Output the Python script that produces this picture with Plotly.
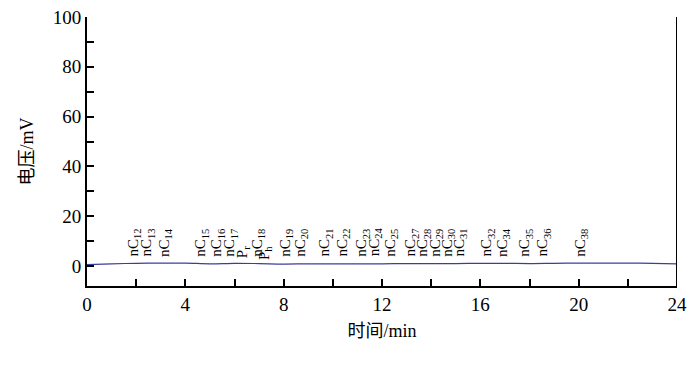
import plotly.graph_objects as go

# Chromatogram baseline (time in min, voltage in mV)
time_min = [0, 1, 2, 3, 4, 5, 6, 7, 8, 9, 10, 11, 12, 13, 14, 15, 16, 17, 18, 19, 20, 21, 22, 23, 24]
voltage_mv = [0.6, 0.9, 1.1, 1.2, 1.2, 0.9, 1.1, 1.0, 0.8, 0.9, 0.9, 0.9, 0.9, 1.0, 1.0, 1.0, 1.1, 1.1, 1.0, 1.1, 1.2, 1.2, 1.2, 1.1, 0.9]

# Peak labels and their retention times
peak_labels = ["nC<sub>12</sub>", "nC<sub>13</sub>", "nC<sub>14</sub>", "nC<sub>15</sub>", "nC<sub>16</sub>",
               "nC<sub>17</sub>", "P<sub>r</sub>", "nC<sub>18</sub>", "P<sub>h</sub>", "nC<sub>19</sub>",
               "nC<sub>20</sub>", "nC<sub>21</sub>", "nC<sub>22</sub>", "nC<sub>23</sub>", "nC<sub>24</sub>",
               "nC<sub>25</sub>", "nC<sub>27</sub>", "nC<sub>28</sub>", "nC<sub>29</sub>", "nC<sub>30</sub>",
               "nC<sub>31</sub>", "nC<sub>32</sub>", "nC<sub>34</sub>", "nC<sub>35</sub>", "nC<sub>36</sub>",
               "nC<sub>38</sub>"]
peak_times = [1.91, 2.44, 3.17, 4.64, 5.29, 5.82, 6.35, 6.92, 7.24, 8.06, 8.67, 9.68, 10.41, 11.19, 11.72,
              12.33, 13.18, 13.67, 14.16, 14.65, 15.17, 16.27, 16.92, 17.82, 18.55, 20.06]
peak_label_y = [3.0, 3.0, 3.0, 3.0, 3.0, 3.0, 2.4, 3.0, 1.6, 3.0, 3.0, 3.0, 3.0, 3.0, 3.0,
                3.0, 3.0, 3.0, 3.0, 3.0, 3.0, 3.0, 3.0, 3.0, 3.0, 3.0]

x_ticks = [0, 4, 8, 12, 16, 20, 24]
y_ticks = [0, 20, 40, 60, 80, 100]

FONT = "Liberation Serif, Noto Sans CJK SC, serif"

fig = go.Figure()
fig.add_trace(go.Scatter(x=time_min, y=voltage_mv, mode="lines",
                         line=dict(color="#3a3f9a", width=1.2, shape="spline"),
                         showlegend=False))

for lab, t, yy in zip(peak_labels, peak_times, peak_label_y):
    fig.add_annotation(x=t, y=yy, text=lab, textangle=-90, showarrow=False,
                       xanchor="center", yanchor="bottom",
                       font=dict(family=FONT, size=15, color="black"))

fig.update_layout(
    width=700, height=371,
    margin=dict(l=87, r=23, t=17, b=85, autoexpand=False),
    plot_bgcolor="white", paper_bgcolor="white",
    font=dict(family=FONT, size=19, color="black"),
    xaxis=dict(range=[0, 24], tickmode="array", tickvals=x_ticks,
               ticks="inside", ticklen=7, tickwidth=1.5, tickcolor="black",
               minor=dict(dtick=2, tick0=0, ticks="inside", ticklen=7, tickwidth=1.5, tickcolor="black"),
               showline=True, linecolor="black", linewidth=2, mirror=False,
               showgrid=False, zeroline=False, automargin=False,
               title=dict(text="时间/min", font=dict(family=FONT, size=18), standoff=11)),
    yaxis=dict(range=[-8, 100], tickmode="array", tickvals=y_ticks,
               ticks="inside", ticklen=7, tickwidth=1.5, tickcolor="black",
               minor=dict(dtick=10, tick0=0, ticks="inside", ticklen=7, tickwidth=1.5, tickcolor="black"),
               showline=True, linecolor="black", linewidth=2,
               showgrid=False, zeroline=False, automargin=False,
               title=dict(text="电压/mV", font=dict(family=FONT, size=18), standoff=14)),
)

# right border line
fig.add_shape(type="line", xref="x", yref="paper", x0=24, x1=24, y0=0, y1=1,
              line=dict(color="black", width=2))

fig.write_html("out.html", config={"displayModeBar": False},
               post_script="document.body.style.margin='0';document.body.style.overflow='hidden';")
